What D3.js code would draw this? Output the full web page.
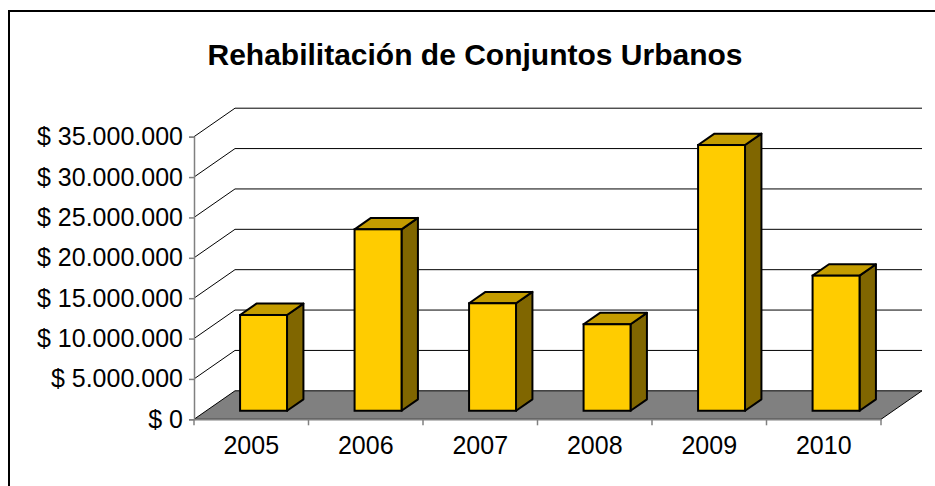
<!DOCTYPE html>
<html>
<head>
<meta charset="utf-8">
<script src="https://cdn.jsdelivr.net/npm/d3@7"></script>
<style>
  body { margin: 0; background: #fff; }
  svg { display: block; font-family: "Liberation Sans", Arial, sans-serif; }
</style>
</head>
<body>
<svg width="935" height="486"></svg>
<script>
// data
var years = ["2005", "2006", "2007", "2008", "2009", "2010"];
var amounts = [11860000, 22470000, 13310000, 10710000, 32910000, 16730000];
var yTicks = [0, 5000000, 10000000, 15000000, 20000000, 25000000, 30000000, 35000000];
var chartTitle = "Rehabilitación de Conjuntos Urbanos";

var svg = d3.select("svg");

var left = 194, right = 881,
    zeroY = 419.3, topY = 136.7,
    depthX = 41, depthY = -28.5,
    barFront = 0.3, barDepth = 0.4;

var x = d3.scaleBand()
    .domain(years)
    .range([left, right])
    .paddingInner(0)
    .paddingOuter(0);

var y = d3.scaleLinear()
    .domain([0, 35000000])
    .range([zeroY, topY]);

var locale = d3.formatLocale({ decimal: ",", thousands: ".", grouping: [3], currency: ["$ ", ""] });
var money = locale.format("$,");

// outer frame
svg.append("rect")
    .attr("x", 9)
    .attr("y", 11)
    .attr("width", 960)
    .attr("height", 500)
    .attr("fill", "none")
    .attr("stroke", "#000")
    .attr("stroke-width", 2);

svg.append("text")
    .attr("x", 475)
    .attr("y", 65)
    .attr("text-anchor", "middle")
    .attr("font-size", "30px")
    .attr("font-weight", "bold")
    .text(chartTitle);

// gridlines: side wall diagonal then back wall
yTicks.slice(1).forEach(function (t) {
    var gy = y(t);
    svg.append("polyline")
        .attr("points", [[left, gy], [left + depthX, gy + depthY], [right + depthX, gy + depthY]].join(" "))
        .attr("fill", "none")
        .attr("stroke", "#000")
        .attr("stroke-width", 1);
});

// floor
svg.append("polygon")
    .attr("points", [[left, zeroY], [right, zeroY], [right + depthX, zeroY + depthY], [left + depthX, zeroY + depthY]].join(" "))
    .attr("fill", "#808080")
    .attr("stroke", "#000")
    .attr("stroke-width", 1);

// y axis
var yAxis = d3.axisLeft(y)
    .tickValues(yTicks)
    .tickSize(5)
    .tickPadding(6)
    .tickFormat(money);

var gy = svg.append("g")
    .attr("transform", "translate(" + left + ",0)")
    .call(yAxis);
gy.select(".domain").attr("stroke", "#808080").attr("stroke-width", 1.5);
gy.selectAll(".tick line").attr("stroke", "#808080").attr("stroke-width", 1.5);
gy.selectAll(".tick text")
    .attr("font-size", "25px")
    .attr("font-family", "Liberation Sans, Arial, sans-serif")
    .attr("fill", "#000");

// x axis along the front edge of the floor
var xAxis = d3.axisBottom(x).tickSize(0).tickPadding(17);
var gx = svg.append("g")
    .attr("transform", "translate(0," + zeroY + ")")
    .call(xAxis);
gx.select(".domain").attr("stroke", "#808080").attr("stroke-width", 1.5);
gx.selectAll(".tick text")
    .attr("font-size", "25px")
    .attr("font-family", "Liberation Sans, Arial, sans-serif")
    .attr("fill", "#000");

// category dividers
var edges = years.map(function (d) { return x(d); }).concat([right]);
edges.forEach(function (ex) {
    svg.append("line")
        .attr("x1", ex).attr("x2", ex)
        .attr("y1", zeroY).attr("y2", zeroY + 6)
        .attr("stroke", "#808080")
        .attr("stroke-width", 1.5);
});

// bars
var barW = x.bandwidth() * 0.41;
var fx = barFront * depthX, fy = barFront * depthY;
var bx = barDepth * depthX, by = barDepth * depthY;

years.forEach(function (yr, i) {
    var x0 = x(yr) + (x.bandwidth() - barW) / 2 + fx;
    var x1 = x0 + barW;
    var yb = y(0) + fy;
    var yt = y(amounts[i]) + fy;

    svg.append("polygon")
        .attr("points", [[x1, yt], [x1 + bx, yt + by], [x1 + bx, yb + by], [x1, yb]].join(" "))
        .attr("fill", "#806600")
        .attr("stroke", "#000")
        .attr("stroke-width", 2)
        .attr("stroke-linejoin", "round");

    svg.append("polygon")
        .attr("points", [[x0, yt], [x0 + bx, yt + by], [x1 + bx, yt + by], [x1, yt]].join(" "))
        .attr("fill", "#C49C00")
        .attr("stroke", "#000")
        .attr("stroke-width", 2)
        .attr("stroke-linejoin", "round");

    svg.append("rect")
        .attr("x", x0)
        .attr("y", yt)
        .attr("width", barW)
        .attr("height", yb - yt)
        .attr("fill", "#FFCC00")
        .attr("stroke", "#000")
        .attr("stroke-width", 2);
});
</script>
</body>
</html>
